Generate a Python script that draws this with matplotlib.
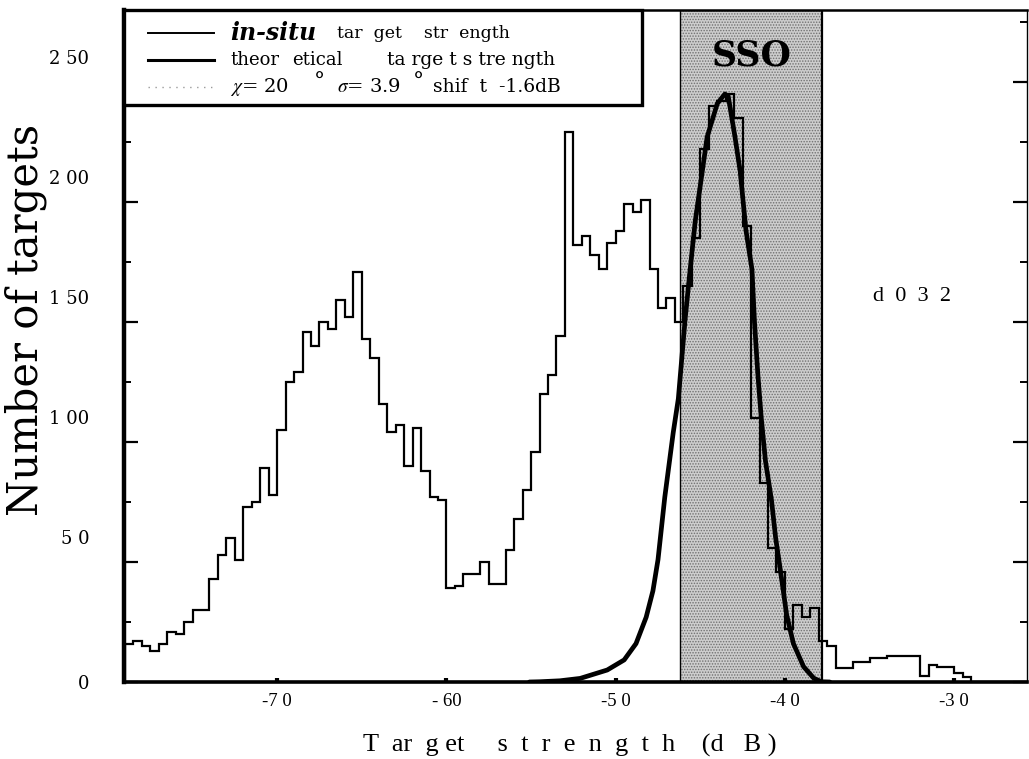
import numpy as np
import matplotlib.pyplot as plt
import matplotlib.transforms as mtransforms
from matplotlib.lines import Line2D
from matplotlib.patches import Rectangle

plt.rcParams['mathtext.fontset'] = 'stix'
plt.rcParams['hatch.linewidth'] = 0.7

# in-situ target strength histogram, 0.5 dB bins from -79 dB
bin_edges = np.arange(-79.0, -24.75, 0.5)
counts = [16, 17, 15, 13, 16, 21, 20, 25, 30, 30,
          43, 53, 60, 51, 73, 75, 89, 78, 105, 125,
          129, 146, 140, 150, 147, 159, 152, 171, 143, 135,
          116, 104, 107, 90, 106, 88, 77, 76, 39, 40,
          45, 45, 50, 41, 41, 55, 68, 80, 96, 120,
          128, 144, 229, 182, 186, 178, 172, 183, 188, 199,
          196, 201, 172, 156, 160, 150, 165, 185, 222, 240,
          242, 245, 235, 190, 110, 83, 56, 46, 22, 32,
          27, 31, 17, 15, 6, 6, 8.5, 8.5, 10, 10,
          11, 11, 11, 11, 2.5, 7, 6.4, 6.4, 3.6, 2.2,
          0, 0, 0, 0, 0, 0, 0, 0]

# theoretical target strength distribution
theory_db = [-55.1, -54.5, -53.3, -52.1, -50.5, -49.5, -48.8, -48.2, -47.8,
             -47.5, -47.1, -46.6, -46.3, -45.9, -45.6, -45.3, -44.6, -44.0,
             -43.55, -43.35, -42.95, -42.65, -42.3, -41.95, -41.8, -41.6,
             -41.4, -41.15, -40.8, -40.55, -40.3, -39.9, -39.5, -38.9,
             -38.3, -37.85, -37.35]
theory_n = [0, 0.1, 0.5, 1.5, 5, 9.2, 16, 27, 38,
            51, 77, 104, 118, 151, 172, 192, 227, 241,
            245, 244, 227, 213, 188, 172, 150, 128,
            110, 92, 76, 60, 48, 28, 16, 6.4,
            1.6, 0.1, 0]

sso_range = (-46.2, -37.82)

x_ticks = [-70, -60, -50, -40, -30]
x_ticklabels = ['-7 0', '- 60', '-5 0', '-4 0', '-3 0']
y_ticks = [0, 50, 100, 150, 200, 250]
y_ticklabels = ['0', '5 0', '1 00', '1 50', '2 00', '2 50']

fig = plt.figure(figsize=(10.29, 7.59), dpi=100)
ax = fig.add_axes([124 / 1029, 1 - 682 / 759, 903 / 1029, 672 / 759])

# SSO window
ax.axvspan(*sso_range, facecolor='#cdcdcd', edgecolor='#707070',
           hatch='......', linewidth=0, zorder=0.5)
ax.axvline(sso_range[0], color='black', lw=1.0, zorder=1)
ax.axvline(sso_range[1], color='black', lw=1.6, zorder=1)

ax.stairs(counts, bin_edges, color='black', lw=1.6, zorder=3)
ax.plot(theory_db, theory_n, color='black', lw=3.4, zorder=4,
        solid_capstyle='round', solid_joinstyle='round')

ax.set_xlim(-79.05, -25.7)
ax.set_ylim(0, 280)

ax.set_xticks(x_ticks, x_ticklabels)
ax.set_yticks(y_ticks, y_ticklabels)
ax.set_yticks(np.arange(25, 280, 50), minor=True)
ax.tick_params(axis='both', which='both', direction='in', right=True,
               top=False, color='black')
ax.tick_params(axis='y', which='major', length=10, width=1.6, pad=25,
               labelsize=13, labelfontfamily='DejaVu Serif')
ax.tick_params(axis='y', which='minor', length=5, width=1.4)
ax.tick_params(axis='x', which='major', length=3, width=3, pad=8,
               labelsize=13.5, labelfontfamily='Liberation Serif')

# the y tick labels sit a little above their ticks
shift = mtransforms.ScaledTranslation(0, 0.25, fig.dpi_scale_trans)
for lab in ax.get_yticklabels():
    if lab.get_text() != '0':
        lab.set_transform(lab.get_transform() + shift)

for side, lw in (('left', 3.2), ('bottom', 2.6), ('top', 1.8), ('right', 1.0)):
    ax.spines[side].set_linewidth(lw)

fig.text(26 / 1029, 1 - 320 / 759, 'Number of targets', rotation=90,
         ha='center', va='center', fontsize=30, family='DejaVu Serif')
fig.text(570 / 1029, 1 - 745 / 759,
         'T  ar  g et     s  t  r  e  n  g  t  h    (d   B )',
         ha='center', va='center', fontsize=19, family='Liberation Serif')

ax.text(0.6955, 0.933, 'SSO', transform=ax.transAxes, ha='center',
        va='center', fontsize=25, fontweight='bold', family='DejaVu Serif',
        zorder=5)
ax.text(0.8726, 0.573, 'd  0  3  2', transform=ax.transAxes, ha='center',
        va='center', fontsize=16, family='Liberation Serif')

# legend box
box_bottom = (682 - 105) / 672
ax.add_patch(Rectangle((0, box_bottom), 0.574, 1 - box_bottom,
                       transform=ax.transAxes, facecolor='white',
                       edgecolor='black', lw=2.4, zorder=6, clip_on=False))
rows = [(682 - 33) / 672, (682 - 60) / 672, (682 - 87) / 672]
samples = [dict(color='black', lw=1.4),
           dict(color='black', lw=2.2),
           dict(color='#9a9a9a', lw=1.0, ls=(0, (1, 4)))]
for yr, style in zip(rows, samples):
    ax.add_line(Line2D([0.027, 0.1], [yr, yr], transform=ax.transAxes,
                       zorder=7, **style))


def legend_text(px, row, s, dy=0.0, **kw):
    style = dict(fontsize=13, family='DejaVu Serif', va='center')
    style.update(kw)
    ax.text((px - 124) / 903, rows[row] + dy, s, transform=ax.transAxes,
            zorder=7, **style)


legend_text(230, 0, 'in-situ', fontsize=17, fontweight='bold',
            fontstyle='italic')
legend_text(337, 0, 'tar  get    str  ength', fontsize=12.5)
legend_text(230, 1, 'theor')
legend_text(292, 1, 'etical')
legend_text(387, 1, 'ta rge t s tre ngth', fontsize=13.5)
legend_text(230, 2, r'$\chi$= 20', fontsize=14)
legend_text(314, 2, '°', dy=0.006, fontsize=16)
legend_text(337, 2, r'$\sigma$= 3.9', fontsize=14)
legend_text(413, 2, '°', dy=0.006, fontsize=16)
legend_text(433, 2, 'shif  t  -1.6dB', fontsize=13.5)

fig.savefig('out.png', dpi=100)
